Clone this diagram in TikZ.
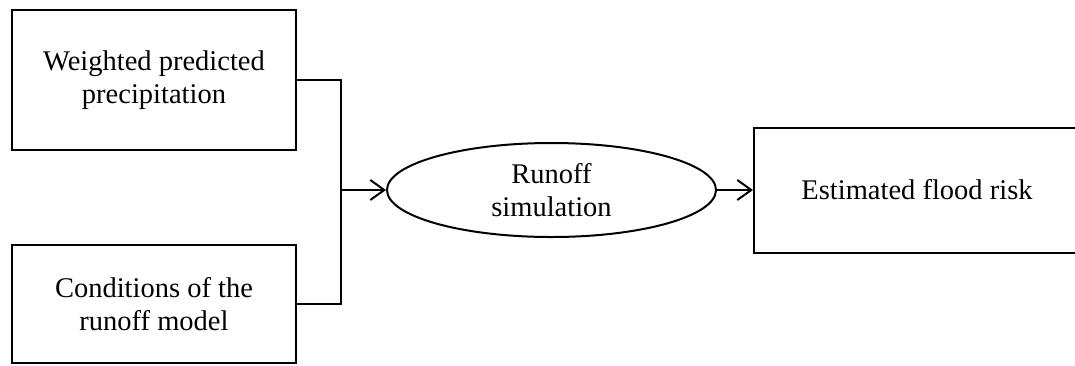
\documentclass[tikz,border=0pt]{standalone}
\usepackage{fontspec}
\setmainfont{Liberation Serif}
\usetikzlibrary{arrows.meta,shapes.geometric}
\begin{document}
\begin{tikzpicture}[x=1pt,y=-1pt,
  box/.style={draw=black,line width=2pt,rectangle,inner sep=0pt,align=center,
    font=\fontsize{28.5}{33}\selectfont},
  oval/.style={draw=black,line width=2pt,ellipse,inner sep=0pt,align=center,
    font=\fontsize{28.5}{33}\selectfont},
  link/.style={line width=2pt,draw=black},
  tip/.style={-{Straight Barb[length=14pt,width=20pt,line width=2pt]}}]
\useasboundingbox (0,0) rectangle (1075,365);
\clip (0,0) rectangle (1075,365);
\node[box,minimum width=284pt,minimum height=140pt] (precip) at (154,80)
  {Weighted predicted\\precipitation};
\node[box,minimum width=284pt,minimum height=118pt] (model) at (154,304)
  {Conditions of the\\runoff model};
\node[oval,minimum width=329pt,minimum height=94pt] (sim) at (551.5,190)
  {Runoff\\simulation};
\node[box,minimum width=326pt,minimum height=125pt] (risk) at (917,190)
  {Estimated flood risk};
\coordinate (join) at (341,190);
\draw[link] (precip.east) -| (join);
\draw[link] (model.east) -| (join);
\draw[link,tip] (join) -- (sim.west);
\draw[link,tip] (sim.east) -- (risk.west);
\end{tikzpicture}
\end{document}
